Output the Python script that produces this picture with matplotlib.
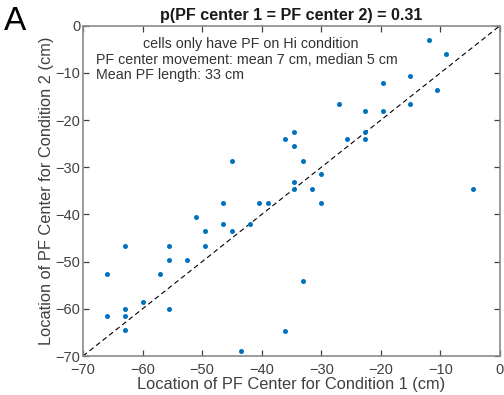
import matplotlib
matplotlib.use('Agg')
import matplotlib.pyplot as plt
import numpy as np

plt.rcParams['font.family'] = ['Liberation Sans', 'DejaVu Sans']

# PF centre locations (cm), condition 1 vs condition 2
cond1 = [-12.0, -9.1, -15.1, -19.6, -10.6, -15.1, -27.1, -19.6, -22.6, -22.6,
         -34.6, -22.6, -25.6, -36.1, -34.6, -45.0, -33.1, -30.0, -34.6, -34.6,
         -31.6, -4.6, -30.0, -46.5, -40.5, -39.0, -51.0, -46.5, -42.0, -45.0,
         -49.5, -63.0, -55.5, -49.5, -55.5, -52.5, -66.0, -57.0, -33.0, -60.0,
         -63.0, -55.5, -66.0, -63.0, -63.0, -36.1, -43.5]
cond2 = [-3.1, -6.1, -10.6, -12.1, -13.6, -16.5, -16.5, -18.1, -18.1, -22.5,
         -22.5, -24.1, -24.1, -24.1, -25.6, -28.6, -28.6, -31.5, -33.1, -34.6,
         -34.6, -34.6, -37.5, -37.5, -37.5, -37.5, -40.6, -42.1, -42.1, -43.6,
         -43.6, -46.6, -46.6, -46.6, -49.6, -49.6, -52.6, -52.6, -54.1, -58.5,
         -60.0, -60.0, -61.5, -61.5, -64.4, -64.6, -69.0]

lims = [-70, 0]
ticks = [-70, -60, -50, -40, -30, -20, -10, 0]

title = 'p(PF center 1 = PF center 2) = 0.31'
notes = ['cells only have PF on Hi condition',
         'PF center movement: mean 7 cm, median 5 cm',
         'Mean PF length: 33 cm']

fig = plt.figure(figsize=(5.04, 3.95), dpi=100)
ax = fig.add_axes([83/504, 1-356/395, 417/504, 330.3/395])

ax.plot(lims, lims, color='black', lw=0.8, dashes=(4.5, 3), zorder=2)
ax.plot(cond1, cond2, 'o', color='#0072BD', ms=3.6, mec='none', zorder=3)

ax.set_xlim(lims)
ax.set_ylim(lims)
ax.set_xticks(ticks)
ax.set_yticks(ticks)
for s in ax.spines.values():
    s.set_color('#8a8a8a')
    s.set_linewidth(1.2)
ax.tick_params(direction='in', length=4, width=0.9, color='#404040',
               labelcolor='#404040', labelsize=10.5, top=True, right=True)
ax.tick_params(axis='x', pad=5)
ax.tick_params(axis='y', pad=2)

ax.set_title(title, fontsize=11.6, fontweight='bold', color='#1a1a1a', pad=4)
ax.set_xlabel('Location of PF Center for Condition 1 (cm)', fontsize=11.8,
              color='#404040', labelpad=0)
ax.set_ylabel('Location of PF Center for Condition 2 (cm)', fontsize=11.8,
              color='#404040', labelpad=1)

# annotation block, top-left inside the axes
ax.text(143/504, 1-44/395, notes[0], transform=fig.transFigure, fontsize=10.3,
        color='#333333', va='center')
for i, t in enumerate(notes[1:]):
    ax.text(96/504, 1-(60+15.5*i)/395, t, transform=fig.transFigure,
            fontsize=10.3, color='#333333', va='center')

fig.text(15/504, 1-21/395, 'A', fontsize=24, ha='center', va='center')

fig.savefig('out.png', dpi=100)
